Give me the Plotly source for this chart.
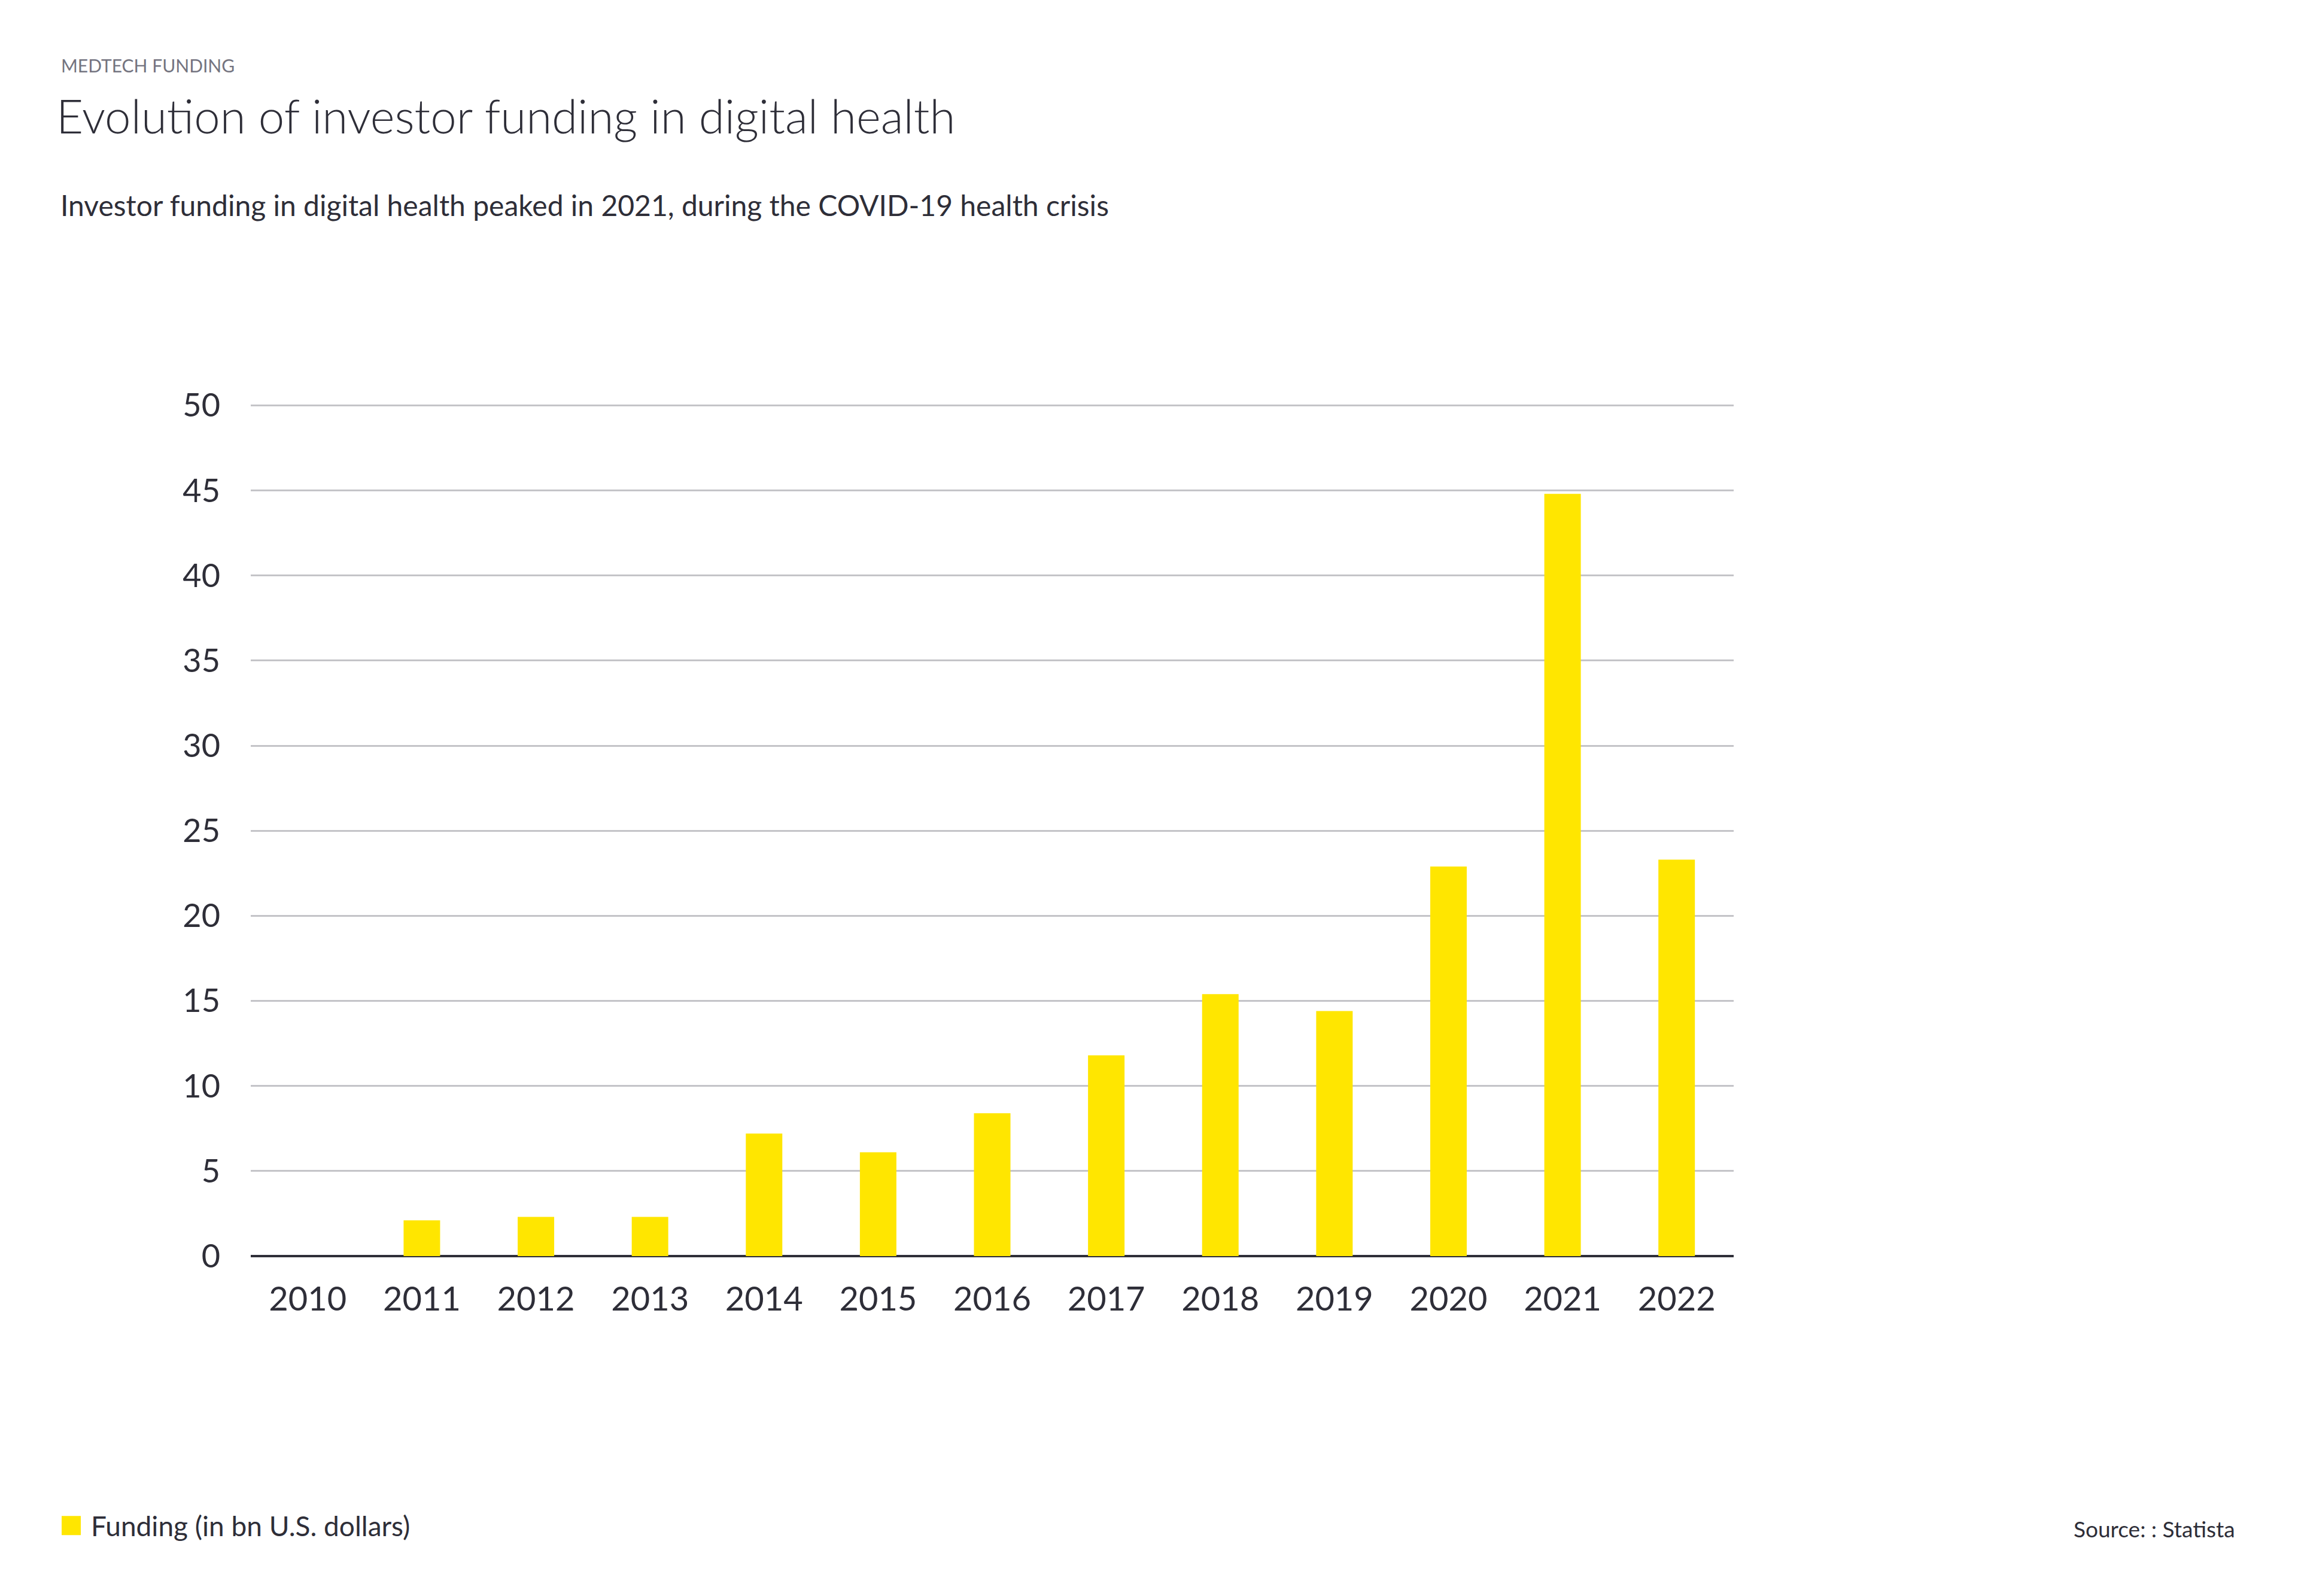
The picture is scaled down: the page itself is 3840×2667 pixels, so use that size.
import plotly.graph_objects as go

years = ["2010", "2011", "2012", "2013", "2014", "2015", "2016",
         "2017", "2018", "2019", "2020", "2021", "2022"]
funding = [0, 2.1, 2.3, 2.3, 7.2, 6.1, 8.4, 11.8, 15.4, 14.4, 22.9, 44.8, 23.3]
y_ticks = [0, 5, 10, 15, 20, 25, 30, 35, 40, 45, 50]

series_name = "Funding (in bn U.S. dollars)"
kicker = "MEDTECH FUNDING"
title = "Evolution of investor funding in digital health"
subtitle = "Investor funding in digital health peaked in 2021, during the COVID-19 health crisis"
source = "Source: : Statista"

DARK = "#2e2e38"
YELLOW = "#ffe600"
FONT = "Lato"

OFF = 8  # page body margin
W, H = 3840 - 2 * OFF, 2667 - 2 * OFF
Y_MAX = 50.3
# screen coordinates of the plot area (value 50 at y=678, value 0 at y=2099)
PPU = (2099 - 678) / 50.0
SL, SR, SB = 419, 2897, 2099
ST = SB - PPU * Y_MAX
L, R, T, B = SL - OFF, SR - OFF, ST - OFF, SB - OFF

fig = go.Figure()
fig.add_trace(go.Bar(
    x=years, y=funding, name=series_name,
    marker=dict(color=YELLOW, line=dict(width=0)),
    showlegend=False,
))

fig.update_layout(
    width=W, height=H,
    margin=dict(l=L, r=W - R, t=T, b=H - B, pad=0),
    paper_bgcolor="white", plot_bgcolor="white",
    font=dict(family=FONT, color=DARK),
    bargap=0.68,
    showlegend=False,
    xaxis=dict(
        type="category",
        tickfont=dict(size=56, color=DARK, family=FONT),
        showgrid=False, showline=False, zeroline=False,
        ticks="", ticklabelstandoff=34,
    ),
    yaxis=dict(
        range=[0, Y_MAX], tickvals=y_ticks, ticktext=[str(v) for v in y_ticks],
        tickfont=dict(size=54, color=DARK, family=FONT),
        showgrid=True, gridcolor="#c4c4c8", gridwidth=3,
        zeroline=True, zerolinecolor=DARK, zerolinewidth=4,
        showline=False, ticks="", ticklabelstandoff=50,
        fixedrange=True,
    ),
)

def py(sy):
    return 1 - (sy - ST) / (SB - ST)

def px(sx):
    return (sx - SL) / (SR - SL)

def note(text, sx, sy, size, color=DARK, anchor="left", weight=None):
    f = dict(size=size, color=color, family=FONT)
    if weight:
        f["weight"] = weight
    fig.add_annotation(text=text, x=px(sx), y=py(sy), xref="paper", yref="paper",
                       xanchor=anchor, yanchor="middle", showarrow=False, font=f)

note(kicker, 100, 110, 30, color="#747480")
note(title, 92, 194, 78, weight=300)
note(subtitle, 99, 343, 48)
note(source, 3737, 2554, 37, anchor="right")

# legend
fig.add_shape(type="rect", xref="paper", yref="paper",
              x0=px(103), x1=px(135), y0=py(2565), y1=py(2533),
              fillcolor=YELLOW, line=dict(width=0))
note(series_name, 150, 2549, 46)

fig.write_html("out.html")
